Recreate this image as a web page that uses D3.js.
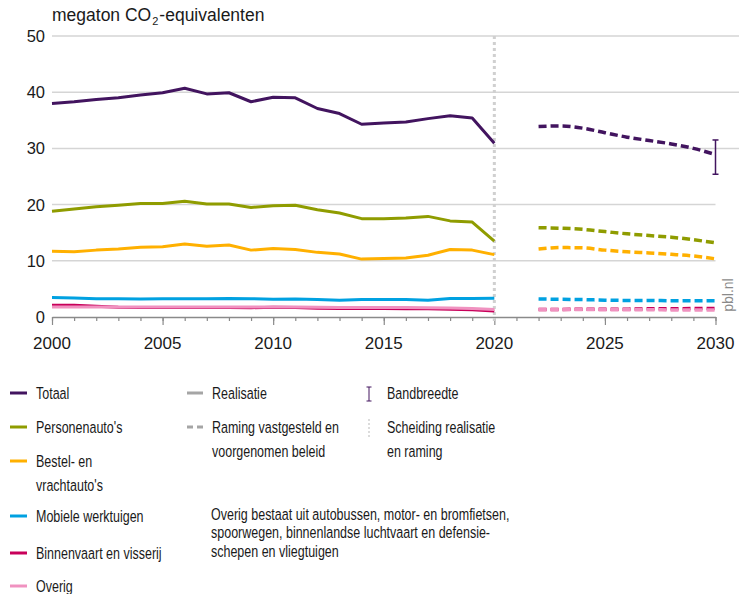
<!DOCTYPE html>
<html>
<head>
<meta charset="utf-8">
<script src="https://cdn.jsdelivr.net/npm/d3@7"></script>
<style>
  html, body { margin: 0; padding: 0; background: #fff; }
  svg { display: block; }
  .reg { font-family: "Liberation Sans", "DejaVu Sans", sans-serif; }
</style>
</head>
<body>
<svg id="chart" width="739" height="594"></svg>
<script>
// Emissies verkeer en vervoer, megaton CO2-equivalenten
const histYears = [2000, 2001, 2002, 2003, 2004, 2005, 2006, 2007, 2008, 2009, 2010,
                   2011, 2012, 2013, 2014, 2015, 2016, 2017, 2018, 2019, 2020];
const projYears = [2022, 2023, 2024, 2025, 2026, 2027, 2028, 2029, 2030];

const totaalHist   = [38.0, 38.3, 38.7, 39.0, 39.5, 39.9, 40.7, 39.7, 39.9, 38.3, 39.1,
                      39.0, 37.1, 36.2, 34.3, 34.5, 34.7, 35.3, 35.8, 35.4, 30.9];
const personenHist = [18.8, 19.2, 19.6, 19.9, 20.2, 20.2, 20.6, 20.1, 20.1, 19.5, 19.8,
                      19.9, 19.1, 18.5, 17.5, 17.5, 17.6, 17.9, 17.1, 16.9, 13.5];
const bestelHist   = [11.7, 11.6, 11.9, 12.1, 12.4, 12.5, 13.0, 12.6, 12.8, 11.9, 12.2,
                      12.0, 11.5, 11.2, 10.3, 10.4, 10.5, 11.0, 12.0, 11.9, 11.1];
const mobieleHist  = [3.45, 3.4, 3.25, 3.25, 3.2, 3.25, 3.25, 3.25, 3.3, 3.25, 3.15,
                      3.2, 3.1, 3.0, 3.1, 3.1, 3.1, 3.0, 3.3, 3.3, 3.35];
const binnenHist   = [2.1, 2.1, 1.9, 1.75, 1.7, 1.7, 1.7, 1.7, 1.7, 1.65, 1.75,
                      1.7, 1.55, 1.5, 1.55, 1.5, 1.45, 1.45, 1.4, 1.3, 1.05];
const overigHist   = [1.8, 1.8, 1.8, 1.8, 1.8, 1.8, 1.8, 1.8, 1.8, 1.8, 1.8,
                      1.8, 1.75, 1.7, 1.7, 1.7, 1.7, 1.65, 1.6, 1.5, 1.35];

const totaalProj   = [33.9, 34.0, 33.6, 32.8, 32.0, 31.4, 30.8, 30.0, 28.9];
const personenProj = [15.9, 15.8, 15.6, 15.2, 14.8, 14.5, 14.2, 13.75, 13.2];
const bestelProj   = [12.1, 12.35, 12.3, 11.9, 11.6, 11.4, 11.15, 10.85, 10.35];
const mobieleProj  = [3.2, 3.15, 3.1, 3.0, 2.95, 2.95, 2.9, 2.9, 2.9];
const binnenProj   = [1.35, 1.35, 1.4, 1.4, 1.4, 1.45, 1.45, 1.5, 1.5];
const overigProj   = [1.35, 1.35, 1.35, 1.3, 1.3, 1.3, 1.25, 1.25, 1.25];

// Bandbreedte totaal 2030
const bandYear = 2030;
const bandRange = [25.4, 31.5];

const seriesNames  = ["Totaal", "Personenauto's", "Bestel- en\nvrachtauto's", "Mobiele werktuigen",
                      "Binnenvaart en visserij", "Overig"];
const seriesColors = ["#42145f", "#8f9c00", "#ffb000", "#00a1e1", "#c8005a", "#f092c0"];
const histSeries = [totaalHist, personenHist, bestelHist, mobieleHist, binnenHist, overigHist];
const projSeries = [totaalProj, personenProj, bestelProj, mobieleProj, binnenProj, overigProj];

const yTicks = [0, 10, 20, 30, 40, 50];
const xTickLabels = [2000, 2005, 2010, 2015, 2020, 2025, 2030];
const splitYear = 2020;

const svg = d3.select("#chart");

const x = d3.scaleLinear().domain([2000, 2030]).range([52, 715.5]);
const y = d3.scaleLinear().domain([0, 50]).range([317, 36]);

// gridlines
svg.append("g").selectAll("line")
  .data(yTicks.filter(d => d > 0))
  .join("line")
  .attr("x1", x(2000))
  .attr("x2", d => d >= 30 ? 739 : x(2030))
  .attr("y1", d => y(d)).attr("y2", d => y(d))
  .attr("stroke", "#d5d5d5").attr("stroke-width", 1.5);

// y labels
svg.append("g").selectAll("text")
  .data(yTicks)
  .join("text")
  .attr("class", "reg")
  .attr("x", 45).attr("y", d => y(d)).attr("dy", "0.36em")
  .attr("text-anchor", "end")
  .attr("font-size", 16.5).attr("fill", "#1a1a1a")
  .text(d => d);

// unit label
const unit = svg.append("text").attr("class", "reg")
  .attr("x", 52).attr("y", 21).attr("font-size", 17.5).attr("fill", "#1a1a1a");
unit.append("tspan").text("megaton CO");
unit.append("tspan").attr("font-size", 11).attr("dx", 1).attr("dy", 4).text("2");
unit.append("tspan").attr("dx", 1).attr("dy", -4).text("-equivalenten");

// x axis: minor yearly ticks + major ticks
const minor = d3.axisBottom(x).tickValues(d3.range(2000, 2031)).tickSize(4).tickFormat("").tickSizeOuter(0);
const major = d3.axisBottom(x).tickValues(xTickLabels).tickSize(8).tickFormat("").tickSizeOuter(0);
const gMinor = svg.append("g").attr("transform", `translate(0,${y(0)})`).call(minor);
const gMajor = svg.append("g").attr("transform", `translate(0,${y(0)})`).call(major);
[gMinor, gMajor].forEach(g => {
  g.select(".domain").attr("stroke", "#8a8a8a").attr("stroke-width", 1.5);
  g.selectAll(".tick line").attr("stroke", "#8a8a8a").attr("stroke-width", 1.2);
});
gMajor.select(".domain").remove();

svg.append("g").selectAll("text")
  .data(xTickLabels)
  .join("text")
  .attr("class", "reg")
  .attr("x", d => x(d)).attr("y", 349)
  .attr("text-anchor", "middle")
  .attr("font-size", 17).attr("fill", "#1a1a1a")
  .text(d => d);

// separator realisation / projection
svg.append("line")
  .attr("x1", x(splitYear)).attr("x2", x(splitYear))
  .attr("y1", y(50)).attr("y2", y(0) + 6)
  .attr("stroke", "#d0d0d0").attr("stroke-width", 3)
  .attr("stroke-dasharray", "3,3");

const lineHist = d3.line().x(d => x(d[0])).y(d => y(d[1])).curve(d3.curveLinear);
const lineProj = d3.line().x(d => x(d[0])).y(d => y(d[1])).curve(d3.curveMonotoneX);

// draw from bottom series to top
const order = [4, 5, 3, 2, 1, 0];
const gLines = svg.append("g");
order.forEach(i => {
  gLines.append("path")
    .datum(histYears.map((yr, k) => [yr, histSeries[i][k]]))
    .attr("d", lineHist)
    .attr("fill", "none").attr("stroke", seriesColors[i])
    .attr("stroke-width", 3).attr("stroke-linejoin", "round");
  gLines.append("path")
    .datum(projYears.map((yr, k) => [yr, projSeries[i][k]]))
    .attr("d", lineProj)
    .attr("fill", "none").attr("stroke", seriesColors[i])
    .attr("stroke-width", 3.5).attr("stroke-dasharray", "8,4");
});

// range bar 2030
const bx = x(bandYear);
const gBand = svg.append("g").attr("stroke", "#42145f").attr("stroke-width", 1.5);
gBand.append("line").attr("x1", bx).attr("x2", bx).attr("y1", y(bandRange[0])).attr("y2", y(bandRange[1]));
gBand.append("line").attr("x1", bx - 3).attr("x2", bx + 3).attr("y1", y(bandRange[0])).attr("y2", y(bandRange[0]));
gBand.append("line").attr("x1", bx - 3).attr("x2", bx + 3).attr("y1", y(bandRange[1])).attr("y2", y(bandRange[1]));

// source mark
svg.append("text").attr("class", "reg")
  .attr("transform", "translate(733,295) rotate(-90)")
  .attr("text-anchor", "middle").attr("font-size", 14).attr("fill", "#8a8a8a")
  .text("pbl.nl");

// legend text: condensed setting of the sans face
const lg = svg.append("g").attr("class", "reg").attr("font-size", 17).attr("fill", "#1a1a1a");
function label(tx, ty, str) {
  lg.append("text")
    .attr("transform", `translate(${tx},${ty}) scale(0.735,1)`)
    .attr("dy", "0.35em")
    .text(str);
}

// legend, column 1: series
const legendRows = [393, 427, 461, 516, 553, 586];
seriesNames.forEach((name, i) => {
  lg.append("line")
    .attr("x1", 10).attr("x2", 27).attr("y1", legendRows[i]).attr("y2", legendRows[i])
    .attr("stroke", seriesColors[i]).attr("stroke-width", 3);
  name.split("\n").forEach((part, j) => label(36, legendRows[i] + j * 24, part));
});

// legend, column 2: line styles
lg.append("line").attr("x1", 187).attr("x2", 203).attr("y1", 393).attr("y2", 393)
  .attr("stroke", "#a5a5a5").attr("stroke-width", 3);
label(212, 393, "Realisatie");
lg.append("line").attr("x1", 187).attr("x2", 203).attr("y1", 427).attr("y2", 427)
  .attr("stroke", "#a5a5a5").attr("stroke-width", 3).attr("stroke-dasharray", "6,4");
label(212, 427, "Raming vastgesteld en");
label(212, 451, "voorgenomen beleid");

// legend, column 3: range bar and separator
const lb = lg.append("g").attr("stroke", "#42145f").attr("stroke-width", 1);
lb.append("line").attr("x1", 369).attr("x2", 369).attr("y1", 387).attr("y2", 401);
lb.append("line").attr("x1", 366.5).attr("x2", 371.5).attr("y1", 387).attr("y2", 387);
lb.append("line").attr("x1", 366.5).attr("x2", 371.5).attr("y1", 401).attr("y2", 401);
label(387, 393, "Bandbreedte");
lg.append("line").attr("x1", 369).attr("x2", 369).attr("y1", 419).attr("y2", 439)
  .attr("stroke", "#dcdcdc").attr("stroke-width", 2).attr("stroke-dasharray", "2,2");
label(387, 427, "Scheiding realisatie");
label(387, 451, "en raming");

// note
const noteLines = ["Overig bestaat uit autobussen, motor- en bromfietsen,",
                   "spoorwegen, binnenlandse luchtvaart en defensie-",
                   "schepen en vliegtuigen"];
noteLines.forEach((t, i) => label(211, 514 + i * 18.5, t));
</script>
</body>
</html>
